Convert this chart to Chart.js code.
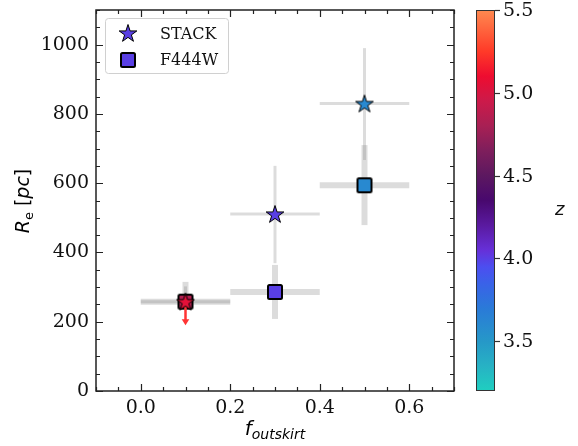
<!DOCTYPE html>
<html>
<head>
<meta charset="utf-8">
<script src="https://cdn.jsdelivr.net/npm/chart.js@4/dist/chart.umd.min.js"></script>
<style>
  html, body { margin: 0; padding: 0; background: #fff; }
</style>
</head>
<body>
<canvas id="chart" width="578" height="446"></canvas>
<script>
// data
const fOutskirt = [0.1, 0.3, 0.5]
const fHalfBin = [0.1, 0.1, 0.1]

const stackRe = [258, 511, 830]
const stackReLow = [258, 369, 667]
const stackReHigh = [302, 650, 990]
const stackLimitTo = [190, null, null] // upper limit arrow (STACK, first bin)
const stackZ = [5.05, 4.0, 3.6]

const f444wRe = [258, 286, 594]
const f444wReLow = [236, 208, 479]
const f444wReHigh = [315, 364, 710]
const f444wZ = [4.85, 4.0, 3.6]

const xTicks = [0.0, 0.2, 0.4, 0.6]
const yTicks = [0, 200, 400, 600, 800, 1000]
const zTicks = [3.5, 4.0, 4.5, 5.0, 5.5]
const zRange = [3.2, 5.5]

// colormap stops (z, colour)
const cmapZ = [3.2, 3.35, 3.5, 3.7, 3.85, 3.95, 4.05, 4.2, 4.35, 4.5, 4.65, 4.8, 4.95, 5.1, 5.25, 5.5]
const cmapColors = ['#1fcfc0', '#27b2c4', '#2698c8', '#2a7ad8', '#3a62e8', '#4c4ef0', '#6630d8', '#5a1aa0',
  '#48086e', '#5c1860', '#7e1e5c', '#a82054', '#cc1a4a', '#ee0c30', '#ff3a28', '#ff8a50']

const SERIF = '"DejaVu Serif", serif'
const SANS = '"DejaVu Sans", sans-serif'

function hexToRgb(h) {
  return [1, 3, 5].map((i) => parseInt(h.slice(i, i + 2), 16))
}

function zColor(z) {
  if (z <= cmapZ[0]) return cmapColors[0]
  for (let i = 1; i < cmapZ.length; i++) {
    if (z <= cmapZ[i]) {
      const t = (z - cmapZ[i - 1]) / (cmapZ[i] - cmapZ[i - 1])
      const a = hexToRgb(cmapColors[i - 1])
      const b = hexToRgb(cmapColors[i])
      const c = a.map((v, k) => Math.round(v + (b[k] - v) * t))
      return `rgb(${c[0]}, ${c[1]}, ${c[2]})`
    }
  }
  return cmapColors[cmapColors.length - 1]
}

// marker images
function starImage(color) {
  const c = document.createElement('canvas')
  c.width = 22
  c.height = 22
  const g = c.getContext('2d')
  const R = 9.3, r = R * 0.382
  g.beginPath()
  for (let i = 0; i < 10; i++) {
    const rad = i % 2 === 0 ? R : r
    const a = -Math.PI / 2 + i * Math.PI / 5
    g.lineTo(11 + rad * Math.cos(a), 11.8 + rad * Math.sin(a))
  }
  g.closePath()
  g.fillStyle = color
  g.fill()
  g.lineWidth = 1
  g.lineJoin = 'miter'
  g.strokeStyle = '#000'
  g.stroke()
  return c
}

function squareImage(color) {
  const c = document.createElement('canvas')
  c.width = 20
  c.height = 20
  const g = c.getContext('2d')
  g.beginPath()
  g.roundRect(3, 3, 14, 14, 1.5)
  g.fillStyle = color
  g.fill()
  g.lineWidth = 2
  g.strokeStyle = '#000'
  g.stroke()
  return c
}

const legendColor = zColor(4.0)

function drawRich(ctx, parts, x, y, align) {
  let w = 0
  parts.forEach((p) => { ctx.font = p.font; w += ctx.measureText(p.t).width })
  let cx = align === 'center' ? x - w / 2 : x
  parts.forEach((p) => {
    ctx.font = p.font
    ctx.fillText(p.t, cx, y + (p.dy || 0))
    cx += ctx.measureText(p.t).width
  })
}

// gray error bars under the markers
const errorBars = {
  id: 'errorBars',
  beforeDatasetsDraw(chart) {
    const { ctx, scales: { x, y } } = chart
    ctx.save()
    ctx.strokeStyle = 'rgba(128, 128, 128, 0.28)'
    ctx.lineCap = 'butt'
    const series = [
      { re: f444wRe, lo: f444wReLow, hi: f444wReHigh, lw: 6 },
      { re: stackRe, lo: stackReLow, hi: stackReHigh, lw: 3 },
    ]
    series.forEach((s) => {
      ctx.lineWidth = s.lw
      fOutskirt.forEach((f, i) => {
        ctx.beginPath()
        ctx.moveTo(x.getPixelForValue(f - fHalfBin[i]), y.getPixelForValue(s.re[i]))
        ctx.lineTo(x.getPixelForValue(f + fHalfBin[i]), y.getPixelForValue(s.re[i]))
        ctx.stroke()
        ctx.beginPath()
        ctx.moveTo(x.getPixelForValue(f), y.getPixelForValue(s.lo[i]))
        ctx.lineTo(x.getPixelForValue(f), y.getPixelForValue(s.hi[i]))
        ctx.stroke()
      })
    })
    ctx.restore()
  },
  afterDatasetDraw(chart, args) {
    // red upper-limit arrow, above the squares, below the stars
    if (args.index !== 1) return
    const { ctx, scales: { x, y } } = chart
    ctx.save()
    ctx.strokeStyle = '#ff3434'
    ctx.fillStyle = '#ff3434'
    ctx.lineWidth = 2.5
    fOutskirt.forEach((f, i) => {
      if (stackLimitTo[i] == null) return
      const px = x.getPixelForValue(f)
      const y0 = y.getPixelForValue(stackRe[i])
      const y1 = y.getPixelForValue(stackLimitTo[i])
      ctx.beginPath()
      ctx.moveTo(px, y0)
      ctx.lineTo(px, y1 - 5)
      ctx.stroke()
      ctx.beginPath()
      ctx.moveTo(px - 3.8, y1 - 6)
      ctx.lineTo(px + 3.8, y1 - 6)
      ctx.lineTo(px, y1)
      ctx.closePath()
      ctx.fill()
    })
    ctx.restore()
  },
}

// frame, inward ticks, legend, titles and colour bar
const decorations = {
  id: 'decorations',
  afterDraw(chart) {
    const { ctx, chartArea: a, scales: { x, y } } = chart
    ctx.save()
    ctx.strokeStyle = '#222'
    ctx.lineWidth = 1.5
    ctx.strokeRect(a.left, a.top, a.right - a.left, a.bottom - a.top)

    ctx.lineWidth = 1.2
    for (let k = -2; k <= 14; k++) {
      const v = k * 0.05
      if (v < x.min - 1e-9 || v > x.max + 1e-9) continue
      const px = Math.round(x.getPixelForValue(v)) + 0.5
      const len = k % 4 === 0 ? 7 : 4
      ctx.beginPath()
      ctx.moveTo(px, a.bottom); ctx.lineTo(px, a.bottom - len)
      ctx.moveTo(px, a.top); ctx.lineTo(px, a.top + len)
      ctx.stroke()
    }
    for (let v = 0; v <= y.max; v += 50) {
      const py = Math.round(y.getPixelForValue(v)) + 0.5
      const len = v % 200 === 0 ? 7 : 4
      ctx.beginPath()
      ctx.moveTo(a.left, py); ctx.lineTo(a.left + len, py)
      ctx.moveTo(a.right, py); ctx.lineTo(a.right - len, py)
      ctx.stroke()
    }

    // legend
    ctx.beginPath()
    ctx.roundRect(105.5, 18.5, 123, 55, 3)
    ctx.fillStyle = 'rgba(255,255,255,0.8)'
    ctx.fill()
    ctx.strokeStyle = '#d0d0d0'
    ctx.lineWidth = 1
    ctx.stroke()
    const st = starImage(legendColor)
    const sq = squareImage(legendColor)
    ctx.drawImage(st, 128 - 11, 33 - 11)
    ctx.drawImage(sq, 128 - 10, 60 - 10)
    ctx.fillStyle = '#111'
    ctx.font = `16px ${SERIF}`
    ctx.textAlign = 'left'
    ctx.textBaseline = 'alphabetic'
    ctx.fillText('STACK', 160, 39)
    ctx.fillText('F444W', 160, 65)

    // axis titles
    ctx.fillStyle = '#000'
    drawRich(ctx, [
      { t: 'f', font: `italic 20px ${SANS}` },
      { t: 'outskirt', font: `italic 14px ${SANS}`, dy: 4 },
    ], 275, 435, 'center')
    ctx.save()
    ctx.translate(29, 201)
    ctx.rotate(-Math.PI / 2)
    drawRich(ctx, [
      { t: 'R', font: `italic 19px ${SANS}` },
      { t: 'e', font: `13px ${SANS}`, dy: 4 },
      { t: ' [', font: `19px ${SANS}` },
      { t: 'pc', font: `italic 19px ${SANS}` },
      { t: ']', font: `19px ${SANS}` },
    ], 0, 0, 'center')
    ctx.restore()

    // colour bar
    const cbL = 476, cbR = 495, cbT = a.top, cbB = a.bottom
    const zPix = (z) => cbB - (z - zRange[0]) / (zRange[1] - zRange[0]) * (cbB - cbT)
    const grad = ctx.createLinearGradient(0, cbB, 0, cbT)
    cmapZ.forEach((z, i) => grad.addColorStop((z - zRange[0]) / (zRange[1] - zRange[0]), cmapColors[i]))
    ctx.fillStyle = grad
    ctx.fillRect(cbL, cbT, cbR - cbL, cbB - cbT)
    ctx.strokeStyle = '#333'
    ctx.lineWidth = 1
    ctx.strokeRect(cbL + 0.5, cbT + 0.5, cbR - cbL - 1, cbB - cbT - 1)
    ctx.lineWidth = 1.2
    ctx.fillStyle = '#111'
    ctx.font = `19px ${SERIF}`
    ctx.textBaseline = 'middle'
    zTicks.forEach((z) => {
      const py = Math.round(zPix(z)) + 0.5
      ctx.beginPath()
      ctx.moveTo(cbR, py); ctx.lineTo(cbR + 5, py)
      ctx.stroke()
      ctx.fillText(z.toFixed(1), 503, py + 1)
    })
    ctx.font = `italic 18px ${SANS}`
    ctx.fillText('z', 555, 210)
    ctx.restore()
  },
}

const points = (re) => fOutskirt.map((f, i) => ({ x: f, y: re[i] }))

new Chart(document.getElementById('chart'), {
  type: 'scatter',
  data: {
    datasets: [
      {
        label: 'STACK',
        data: points(stackRe),
        pointStyle: stackZ.map((z) => starImage(zColor(z))),
      },
      {
        label: 'F444W',
        data: points(f444wRe),
        pointStyle: f444wZ.map((z) => squareImage(zColor(z))),
      },
    ],
  },
  options: {
    responsive: false,
    animation: false,
    events: [],
    layout: { padding: { top: 10, right: 124, left: 0, bottom: 0 } },
    plugins: {
      legend: { display: false },
      tooltip: { enabled: false },
    },
    scales: {
      x: {
        type: 'linear',
        min: -0.1,
        max: 0.7,
        grid: { display: false, drawTicks: false },
        border: { display: false },
        afterBuildTicks: (s) => { s.ticks = xTicks.map((v) => ({ value: v })) },
        afterFit: (s) => { s.height = 55; s.paddingLeft = 0; s.paddingRight = 0 },
        ticks: {
          padding: 6,
          maxRotation: 0,
          color: '#111',
          font: { family: SERIF, size: 19 },
          callback: (v) => Number(v).toFixed(1),
        },
      },
      y: {
        type: 'linear',
        min: 0,
        max: 1100,
        grid: { display: false, drawTicks: false },
        border: { display: false },
        afterBuildTicks: (s) => { s.ticks = yTicks.map((v) => ({ value: v })) },
        afterFit: (s) => { s.width = 96; s.paddingTop = 0; s.paddingBottom = 0 },
        ticks: {
          padding: 7,
          color: '#111',
          font: { family: SERIF, size: 19 },
          callback: (v) => String(v),
        },
      },
    },
  },
  plugins: [errorBars, decorations],
})
</script>
</body>
</html>
